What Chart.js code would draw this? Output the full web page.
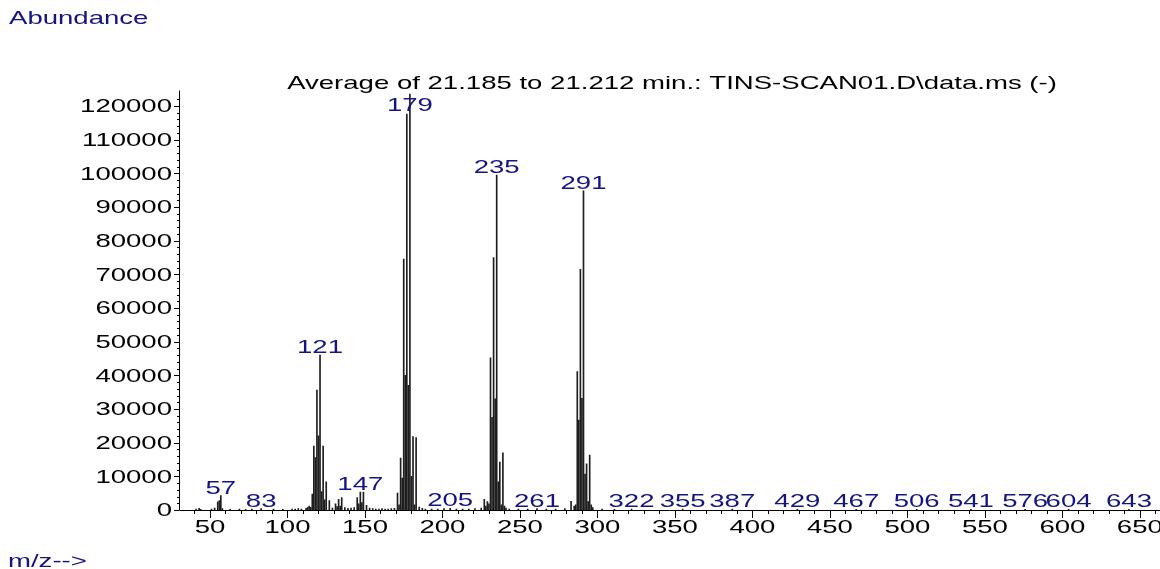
<!DOCTYPE html>
<html>
<head>
<meta charset="utf-8">
<script src="https://cdn.jsdelivr.net/npm/chart.js@4.4.1/dist/chart.umd.min.js"></script>
<style>
  html, body { margin: 0; padding: 0; background: #fff; }
  #wrap { width: 1160px; height: 569px; position: relative; }
</style>
</head>
<body>
<div id="wrap"><canvas id="ms"></canvas></div>
<script>
// ── spectrum data (m/z, abundance) ──
const mz = [
  41, 43, 44, 51, 53, 55, 56, 57, 58, 63, 69, 73, 77, 83, 91, 97, 103, 105, 107, 109,
  112, 113, 114, 115, 116, 117, 118, 119, 120, 121, 122, 123, 124, 125, 127, 129,
  131, 132, 133, 134, 135, 137, 139, 141, 143, 145, 146, 147, 148, 149, 151, 153,
  155, 157, 159, 161, 163, 165, 167, 169, 171, 172, 173, 174, 175, 176, 177, 178,
  179, 180, 181, 182, 183, 185, 187, 189, 193, 197, 201, 205, 209, 213, 217, 221,
  225, 227, 228, 229, 230, 231, 232, 233, 234, 235, 236, 237, 238, 239, 240, 241,
  243, 249, 255, 261, 267, 273, 279, 283, 285, 286, 287, 288, 289, 290, 291, 292,
  293, 294, 295, 296, 297, 303, 311, 322, 355, 387, 429, 467, 506, 541, 576, 604, 643
];
const abundance = [
  300, 500, 200, 300, 600, 2400, 2800, 4300, 400, 200, 300, 200, 300, 400, 300, 200, 300, 300, 400, 300,
  500, 800, 1200, 800, 4700, 19000, 15600, 35600, 22000, 46000, 5500, 19000, 3000, 8400, 2800, 600,
  1800, 1000, 3200, 1200, 3700, 700, 500, 600, 700, 3700, 1800, 5300, 2200, 5300, 1400, 600,
  400, 300, 300, 400, 300, 300, 400, 500, 5000, 1500, 15400, 9500, 74500, 40000, 117600, 37000,
  123500, 10000, 21800, 1500, 21500, 900, 500, 300, 300, 300, 400, 500, 300, 300, 300, 400,
  600, 3200, 1200, 2500, 1800, 45200, 27500, 75000, 33000, 99500, 8400, 14200, 1500, 17000, 1200, 600,
  300, 300, 300, 400, 300, 300, 400, 2600, 1200, 1500, 41100, 26700, 71500, 33200, 94800, 10700,
  13700, 2500, 16300, 1500, 700, 300, 200, 300, 250, 250, 200, 200, 200, 200, 200, 200, 200
];

// peaks that carry an m/z label
const labelledMz = [57, 83, 121, 147, 179, 205, 235, 261, 291, 322, 355, 387, 429, 467, 506, 541, 576, 604, 643];

// axis ticks
const xMajor = [50, 100, 150, 200, 250, 300, 350, 400, 450, 500, 550, 600, 650];
const yMajor = [0, 10000, 20000, 30000, 40000, 50000, 60000, 70000, 80000, 90000, 100000, 110000, 120000];

const titleText = 'Average of 21.185 to 21.212 min.: TINS-SCAN01.D\\data.ms (-)';

const NAVY = '#141482';
const FONT = '"Liberation Sans", Arial, sans-serif';
const SX = 1.45;   // the original text is stretched horizontally

function stretchText(ctx, text, x, y, align, color, size, base) {
  ctx.save();
  ctx.font = size + 'px ' + FONT;
  ctx.fillStyle = color;
  ctx.textAlign = align;
  ctx.textBaseline = base || 'alphabetic';
  ctx.translate(x, y);
  ctx.scale(SX, 1);
  ctx.fillText(text, 0, 0);
  ctx.restore();
}

// axes, ticks and all text drawn on top of the bars
const decor = {
  id: 'decor',
  afterDraw(chart) {
    const { ctx, chartArea: a } = chart;
    const xs = chart.scales.x, ys = chart.scales.y;
    ctx.save();
    ctx.strokeStyle = '#000';
    ctx.lineWidth = 1;
    ctx.beginPath();
    // axis lines
    ctx.moveTo(a.left + 0.5, a.top - 2);
    ctx.lineTo(a.left + 0.5, a.bottom + 0.5);
    ctx.lineTo(a.right, a.bottom + 0.5);
    // x ticks
    for (let v = 40; v <= 660; v += 10) {
      const px = Math.round(xs.getPixelForValue(v)) + 0.5;
      const len = v % 50 === 0 ? 8 : 4;
      ctx.moveTo(px, a.bottom);
      ctx.lineTo(px, a.bottom + len);
    }
    // y ticks
    for (let v = 0; v <= 122000; v += 2000) {
      const py = Math.round(ys.getPixelForValue(v)) + 0.5;
      const len = v % 10000 === 0 ? 5 : 2;
      ctx.moveTo(a.left - len, py);
      ctx.lineTo(a.left, py);
    }
    ctx.stroke();
    ctx.restore();

    xMajor.forEach(v => stretchText(ctx, String(v), xs.getPixelForValue(v), a.bottom + 18, 'center', '#000', 19, 'middle'));
    yMajor.forEach(v => stretchText(ctx, String(v), a.left - 7, ys.getPixelForValue(v) + 1, 'right', '#000', 19, 'middle'));

    // peak labels
    labelledMz.forEach(m => {
      const i = mz.indexOf(m);
      const top = ys.getPixelForValue(abundance[i]);
      const base = Math.max(top - 2, a.top + 18);
      stretchText(ctx, String(m), xs.getPixelForValue(m), base, 'center', NAVY, 19);
    });

    stretchText(ctx, titleText, 672, 89, 'center', '#000', 19);
    stretchText(ctx, 'Abundance', 9, 24, 'left', NAVY, 19);
    stretchText(ctx, 'm/z-->', 8, 567, 'left', NAVY, 19);
  }
};

new Chart(document.getElementById('ms'), {
  type: 'bar',
  data: {
    datasets: [{
      data: mz.map((m, i) => ({ x: m, y: abundance[i] })),
      backgroundColor: '#1e1e1e',
      barThickness: 1,
      borderWidth: 0
    }]
  },
  options: {
    responsive: true,
    maintainAspectRatio: false,
    animation: false,
    layout: { padding: { left: 179, right: 0, top: 92.5, bottom: 59 } },
    plugins: { legend: { display: false }, tooltip: { enabled: false } },
    scales: {
      x: { type: 'linear', min: 30, max: 663, offset: false, display: false },
      y: { min: 0, max: 124000, display: false }
    }
  },
  plugins: [decor]
});
</script>
</body>
</html>
